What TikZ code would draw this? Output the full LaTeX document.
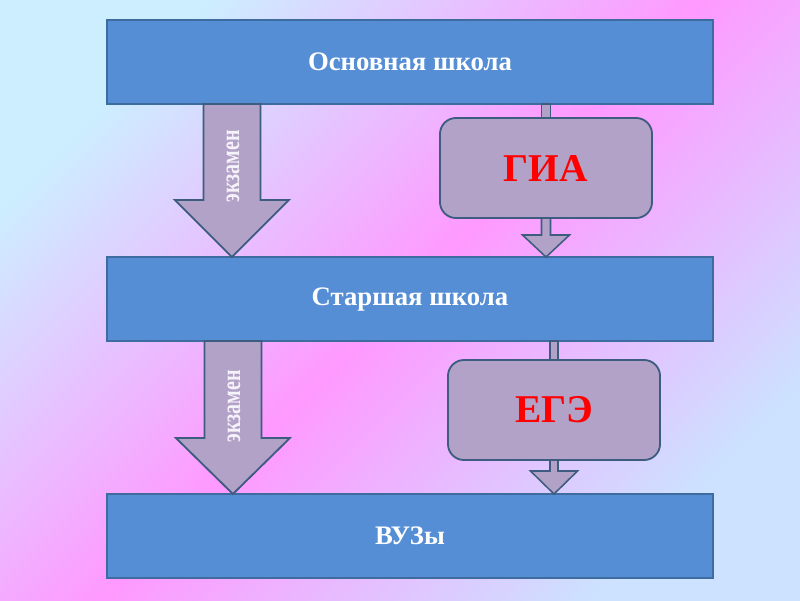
\documentclass[tikz,border=0pt]{standalone}
\usepackage{fontspec}
\setmainfont{Liberation Serif}
\usetikzlibrary{calc}
\definecolor{bgblue}{HTML}{CCEEFF}
\definecolor{bgpink}{HTML}{FF99FF}
\definecolor{bgblue2}{HTML}{CCE2FF}
\definecolor{boxblue}{HTML}{558ED5}
\definecolor{boxline}{HTML}{3F6C9E}
\definecolor{lavender}{HTML}{B3A2C7}
\definecolor{lavline}{HTML}{3E5B80}
\definecolor{examtext}{HTML}{F6F2FA}
\begin{document}
\begin{tikzpicture}[x=0.025cm,y=-0.025cm,every node/.style={outer sep=0pt},
  level/.style={draw=boxline,line width=1.3pt,fill=boxblue,minimum width=15.15cm,minimum height=2.1cm,text=white,font=\bfseries\fontsize{19}{23}\selectfont},
  exam/.style={draw=lavline,line width=1.3pt,fill=lavender,rounded corners=0.4cm,minimum width=5.3cm,minimum height=2.5cm,text=red,font=\bfseries\fontsize{28}{32}\selectfont},
  bigarrow/.style={draw=lavline,line width=1.3pt,fill=lavender},
  smallarrow/.style={draw=lavline,line width=1.1pt,fill=lavender},
  extext/.style={rotate=90,text=examtext,font=\bfseries\fontsize{19}{19}\selectfont}]
\shade[top color=bgblue,bottom color=bgblue2,middle color=bgpink,shading angle=45] (0,0) rectangle (800,600);
\node[level] (osn) at (410,62) {Основная школа};
\node[level] (star) at (410,299) {Старшая школа};
\node[level] (vuz) at (410,536) {ВУЗы};
\node[exam] (gia) at (546,168) {ГИА};
\node[exam] (ege) at (554,410) {ЕГЭ};
% экзамен arrows
\coordinate (t1) at ($(osn.south west)+(125,0)$);
\coordinate (p1) at (t1 |- star.north);
\draw[bigarrow] ($(t1)+(-28.5,0)$) -- ($(p1)+(-28.5,-57)$) -- ($(p1)+(-57,-57)$) -- (p1) -- ($(p1)+(57,-57)$) -- ($(p1)+(28.5,-57)$) -- ($(t1)+(28.5,0)$) -- cycle;
\node[extext] (ex1) at ($(t1)+(1,62)$) {\scalebox{0.75}[1]{экзамен}};
\coordinate (t2) at ($(star.south west)+(126,0)$);
\coordinate (p2) at (t2 |- vuz.north);
\draw[bigarrow] ($(t2)+(-28.5,0)$) -- ($(p2)+(-28.5,-56)$) -- ($(p2)+(-57,-56)$) -- (p2) -- ($(p2)+(57,-56)$) -- ($(p2)+(28.5,-56)$) -- ($(t2)+(28.5,0)$) -- cycle;
\node[extext] (ex2) at ($(t2)+(1,65)$) {\scalebox{0.75}[1]{экзамен}};
% ГИА, ЕГЭ links
\draw[smallarrow] ($(gia.north)+(-4.5,0)$) rectangle ($(gia.north |- osn.south)+(4.5,0)$);
\coordinate (q1) at (gia.south |- star.north);
\draw[smallarrow] ($(gia.south)+(-4.5,0)$) -- ($(q1)+(-4.5,-22)$) -- ($(q1)+(-23.5,-22)$) -- (q1) -- ($(q1)+(23.5,-22)$) -- ($(q1)+(4.5,-22)$) -- ($(gia.south)+(4.5,0)$) -- cycle;
\draw[smallarrow] ($(ege.north)+(-4,0)$) rectangle ($(ege.north |- star.south)+(4,0)$);
\coordinate (q2) at (ege.south |- vuz.north);
\draw[smallarrow] ($(ege.south)+(-4,0)$) -- ($(q2)+(-4,-23)$) -- ($(q2)+(-23.5,-23)$) -- (q2) -- ($(q2)+(23.5,-23)$) -- ($(q2)+(4,-23)$) -- ($(ege.south)+(4,0)$) -- cycle;
\end{tikzpicture}
\end{document}
